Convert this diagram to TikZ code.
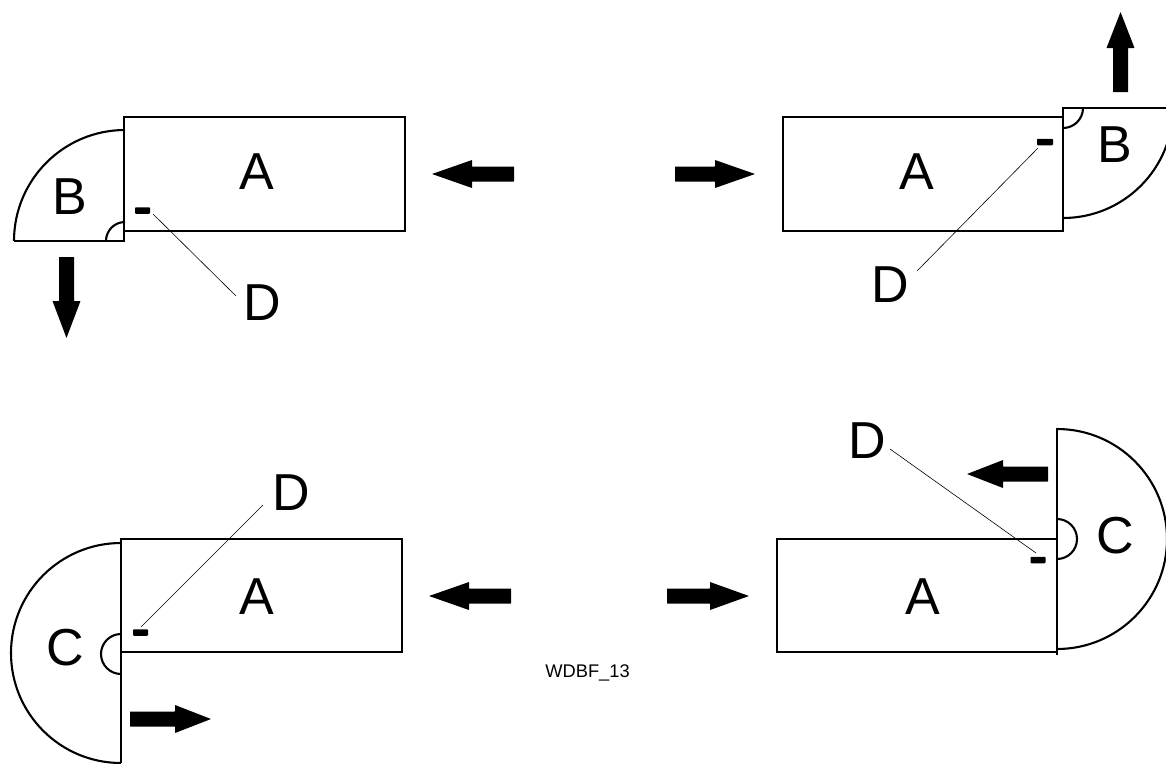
\documentclass[tikz,border=0pt]{standalone}
\usepackage{fontspec}
\setmainfont{Liberation Sans}
\tikzset{
  body/.style={draw=black,line width=1.9pt,fill=none},
  door/.style={draw=black,line width=2.1pt},
  leader/.style={draw=black,line width=0.6pt},
  handle/.style={fill=black,rounded corners=0.8pt},
  big/.style={inner sep=0pt,font=\fontsize{52}{52}\selectfont},
  small/.style={inner sep=0pt,font=\fontsize{18.3}{18.3}\selectfont},
  solidarrow/.style={fill=black,rounded corners=0.3pt}
}
\newcommand{\harrow}[4]{% tail x, base x, tip x, y
  \fill[solidarrow] (#1,#4-7.5) -- (#2,#4-7.5) -- (#2,#4-14) -- (#3,#4) -- (#2,#4+14) -- (#2,#4+7.5) -- (#1,#4+7.5) -- cycle;}
\newcommand{\varrow}[4]{% tail y, base y, tip y, x
  \fill[solidarrow] (#4-7.5,#1) -- (#4-7.5,#2) -- (#4-14,#2) -- (#4,#3) -- (#4+14,#2) -- (#4+7.5,#2) -- (#4+7.5,#1) -- cycle;}
\begin{document}
\begin{tikzpicture}[x=1pt,y=-1pt]
\useasboundingbox (0,0) rectangle (1166,763);
\clip (0,0) rectangle (1166,763);
% top left
\draw[body] (124,117) rectangle (405,231);
\draw[door] (124,117) -- (124,241) -- (14,241);
\draw[door] (14,241) arc[start angle=180,end angle=270,radius=111];
\draw[door] (106,241) arc[start angle=180,end angle=270,radius=19];
\node[big] (a1) at (257,172) {A};
\node[big] (b1) at (70,197) {B};
\node[big] (d1) at (262,303) {D};
\node[handle,minimum width=15pt,minimum height=6.5pt,inner sep=0pt] (h1) at (142.5,210.5) {};
\coordinate (l1a) at (153,214); \coordinate (l1b) at (236,296);
\draw[leader] (l1a) -- (l1b);
\harrow{514}{472}{432}{174}
\varrow{257}{301}{338}{66.5}
% top right
\draw[body] (783,117) rectangle (1063,231);
\draw[door] (1063,231) -- (1063,108) -- (1170,108);
\draw[door] (1173,108) arc[start angle=0,end angle=90,radius=110];
\draw[door] (1083,108) arc[start angle=0,end angle=90,radius=20];
\node[big] (a2) at (917,172) {A};
\node[big] (b2) at (1115,145) {B};
\node[big] (d2) at (890,285) {D};
\node[handle,minimum width=16pt,minimum height=6.5pt,inner sep=0pt] (h2) at (1045,142) {};
\coordinate (l2a) at (1038,148); \coordinate (l2b) at (917,271);
\draw[leader] (l2a) -- (l2b);
\harrow{675}{715}{755}{174}
\varrow{92}{48}{12}{1120.5}
% bottom left
\draw[body] (121,539) rectangle (402,652);
\draw[door] (121,538) -- (121,763);
\draw[door] (121,543) arc[start angle=-90,end angle=-270,radius=110];
\draw[door] (121,634) arc[start angle=-90,end angle=-270,radius=20];
\node[big] (a3) at (257,597) {A};
\node[big] (c3) at (65,648) {C};
\node[big] (d3) at (291,493) {D};
\node[handle,minimum width=15pt,minimum height=6.5pt,inner sep=0pt] (h3) at (140.5,632.5) {};
\coordinate (l3a) at (141,627); \coordinate (l3b) at (263,505);
\draw[leader] (l3a) -- (l3b);
\harrow{511}{469}{429}{596}
\harrow{130}{175}{211}{719}
% bottom right
\draw[body] (777,539) rectangle (1057,652);
\draw[door] (1057,655) -- (1057,428);
\draw[door] (1057,429) arc[start angle=-90,end angle=90,radius=110];
\draw[door] (1057,519) arc[start angle=-90,end angle=90,radius=20];
\node[big] (a4) at (923,597) {A};
\node[big] (c4) at (1115,536) {C};
\node[big] (d4) at (867,441) {D};
\node[handle,minimum width=15pt,minimum height=6.5pt,inner sep=0pt] (h4) at (1038,560) {};
\coordinate (l4a) at (1036,553); \coordinate (l4b) at (890,449);
\draw[leader] (l4a) -- (l4b);
\harrow{1048}{1003}{967}{474}
\harrow{667}{710}{749}{596}
\node[small] (code) at (587.5,672.5) {WDBF\_13};
\end{tikzpicture}
\end{document}
